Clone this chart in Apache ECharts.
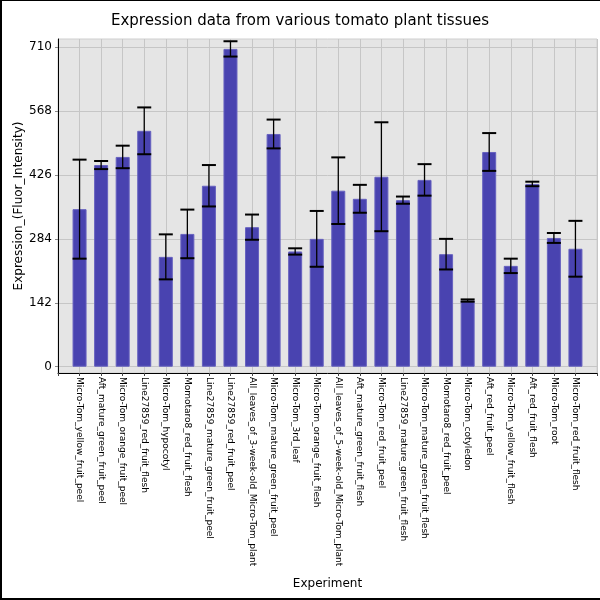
<!DOCTYPE html>
<html>
<head>
<meta charset="utf-8">
<script src="https://cdn.jsdelivr.net/npm/echarts@6/dist/echarts.min.js"></script>
<style>
html,body{margin:0;padding:0;background:#fff;}
#c{position:absolute;left:0;top:0;width:600px;height:600px;}
#frame{position:absolute;left:0;top:0;width:600px;height:600px;box-sizing:border-box;border-top:1px solid #000;border-left:2px solid #000;border-bottom:2px solid #000;pointer-events:none;}
</style>
</head>
<body>
<div id="c"></div>
<div id="frame"></div>
<script>
const categories = [
  'Micro-Tom_yellow_fruit_peel','Aft_mature_green_fruit_peel','Micro-Tom_orange_fruit_peel',
  'Line27859_red_fruit_flesh','Micro-Tom_hypocotyl','Momotaro8_red_fruit_flesh',
  'Line27859_mature_green_fruit_peel','Line27859_red_fruit_peel','All_leaves_of_3-week-old_Micro-Tom_plant',
  'Micro-Tom_mature_green_fruit_peel','Micro-Tom_3rd_leaf','Micro-Tom_orange_fruit_flesh',
  'All_leaves_of_5-week-old_Micro-Tom_plant','Aft_mature_green_fruit_flesh','Micro-Tom_red_fruit_peel',
  'Line27859_mature_green_fruit_flesh','Micro-Tom_mature_green_fruit_flesh','Momotaro8_red_fruit_peel',
  'Micro-Tom_cotyledon','Aft_red_fruit_peel','Micro-Tom_yellow_fruit_flesh',
  'Aft_red_fruit_flesh','Micro-Tom_root','Micro-Tom_red_fruit_flesh'
];
const means = [350,448,466,524,244,295,402,706,310,517,256,284,391,373,422,370,415,250,147,477,224,406,286,262];
const errors = [110,9,25,52,50,54,46,17,28,32,7,62,74,31,121,8,35,34,2.5,42,16,5,11,62];
const yTicks = [0,142,284,426,568,710];

const chart = echarts.init(document.getElementById('c'), null, {renderer:'canvas'});
const font = 'DejaVu Sans';
const barData = means.map((m,i)=>[i,m]);
const errData = means.map((m,i)=>[i,m-errors[i],m+errors[i]]);

chart.setOption({
  animation:false,
  backgroundColor:'#fff',
  title:{text:'Expression data from various tomato plant tissues',left:'center',top:9,
    textStyle:{fontFamily:font,fontSize:15,fontWeight:'normal',color:'#000'}},
  grid:{left:58,right:3,top:39,bottom:227,show:true,backgroundColor:'#e5e5e5',borderColor:'#cfcfcf',borderWidth:1,containLabel:false},
  xAxis:{type:'value',min:-1,max:24,interval:1,
    name:'Experiment',nameLocation:'middle',nameGap:205,nameMoveOverlap:false,
    nameTextStyle:{fontFamily:font,fontSize:12,color:'#000'},
    axisLine:{show:true,onZero:false,lineStyle:{color:'#000',width:1}},
    axisTick:{show:true,length:3,lineStyle:{color:'#444'}},
    splitLine:{show:true,interval:0,lineStyle:{color:'#c6c6c6',width:1}},
    axisLabel:{rotate:-90,margin:4,fontFamily:font,fontSize:9,color:'#000',
      formatter:v=>categories[v]||''}
  },
  yAxis:{type:'value',min:-14,max:728,
    name:'Expression_(Fluor_Intensity)',nameLocation:'middle',nameGap:33,nameRotate:90,nameMoveOverlap:false,
    nameTextStyle:{fontFamily:font,fontSize:12,color:'#000'},
    axisLine:{show:true,onZero:false,lineStyle:{color:'#000',width:1}},
    axisTick:{show:true,length:3,customValues:yTicks,lineStyle:{color:'#888'}},
    splitLine:{show:true,lineStyle:{color:'#c6c6c6',width:1}},
    axisLabel:{customValues:yTicks,margin:6,fontFamily:font,fontSize:12,color:'#000'}
  },
  series:[
    {type:'bar',data:barData,barWidth:14,
      itemStyle:{color:'#4943b0',borderColor:'#6661bf',borderWidth:1},z:2},
    {type:'custom',data:errData,encode:{x:0,y:[1,2]},z:3,
      renderItem:(params,api)=>{
        const x=api.value(0),lo=api.value(1),hi=api.value(2);
        const pHi=api.coord([x,hi]),pLo=api.coord([x,lo]);
        const hw=7;
        return {type:'group',children:[
          {type:'line',shape:{x1:pHi[0],y1:pHi[1],x2:pLo[0],y2:pLo[1]},style:{stroke:'#000',lineWidth:1.3}},
          {type:'line',shape:{x1:pHi[0]-hw,y1:pHi[1],x2:pHi[0]+hw,y2:pHi[1]},style:{stroke:'#000',lineWidth:2}},
          {type:'line',shape:{x1:pLo[0]-hw,y1:pLo[1],x2:pLo[0]+hw,y2:pLo[1]},style:{stroke:'#000',lineWidth:2}}
        ]};
      }}
  ]
});
</script>
</body>
</html>
